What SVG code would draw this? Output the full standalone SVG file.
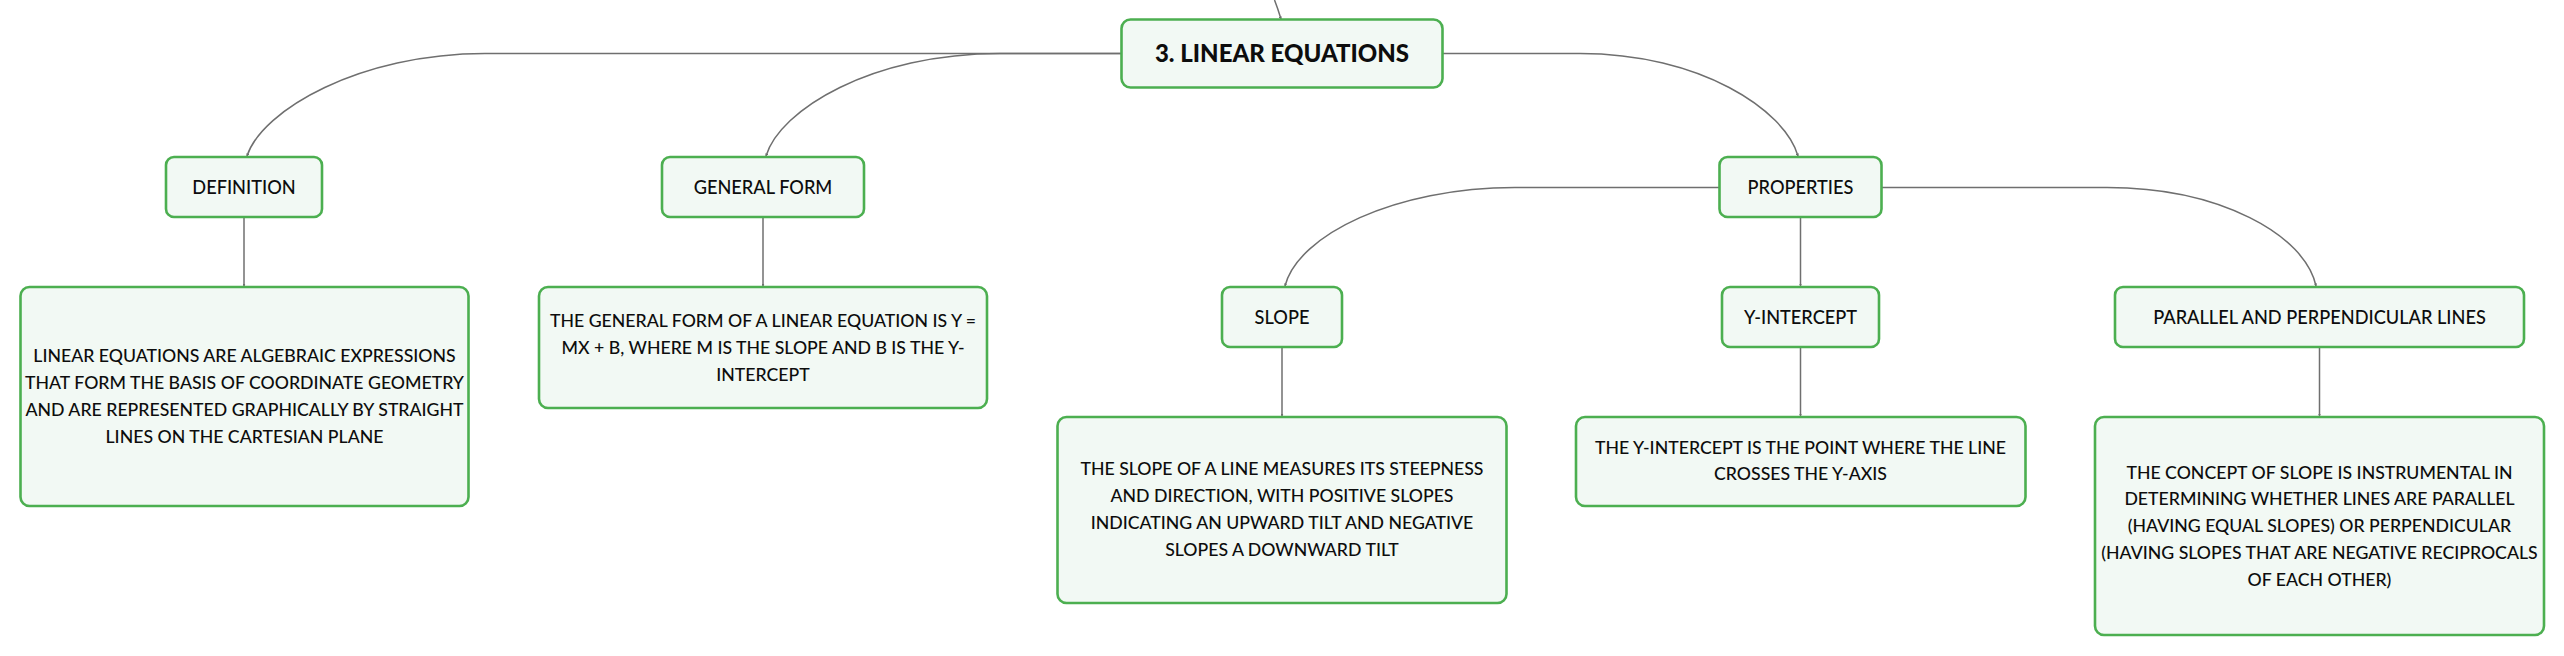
<svg xmlns="http://www.w3.org/2000/svg" width="2564" height="656" viewBox="0 0 2564 656">
<style>
.box{fill:#f2f9f4;stroke:#4caf50;stroke-width:2.6}
.conn{fill:none;stroke:#6f6f6f;stroke-width:1.5}
.t{font-family:Lato,"Open Sans","Liberation Sans",sans-serif;fill:#0d0d0d;text-anchor:middle;font-weight:500}
.lbl{font-size:18.2px}
.det{font-size:17.7px}
.root{font-size:24px;font-weight:900}
</style>
<defs>
<marker id="ah" viewBox="0 0 6 6" refX="5" refY="3" markerWidth="3" markerHeight="3" orient="auto" markerUnits="userSpaceOnUse">
<path d="M0,0 L6,3 L0,6 z" fill="#6f6f6f"/>
</marker>
</defs>
<rect width="2564" height="656" fill="#ffffff"/>
<g id="connectors">
<path class="conn" d="M1274.5,0 Q1278,9 1281,19" marker-end="url(#ah)"/>
<path class="conn" d="M1121,53.5 H485 C360,53.5 262,110 247,156" marker-end="url(#ah)"/>
<path class="conn" d="M1121,53.5 H1000 C871,53.5 780,110 766,156" marker-end="url(#ah)"/>
<path class="conn" d="M1443,53.5 H1580 C1700,53.5 1785,110 1798,156" marker-end="url(#ah)"/>
<path class="conn" d="M244,217 V286" marker-end="url(#ah)"/>
<path class="conn" d="M763,217 V286" marker-end="url(#ah)"/>
<path class="conn" d="M1719,187.5 H1515 C1395,187.5 1298,235 1285,286" marker-end="url(#ah)"/>
<path class="conn" d="M1800.5,217 V286" marker-end="url(#ah)"/>
<path class="conn" d="M1882,187.5 H2107 C2220,187.5 2305,235 2316,286" marker-end="url(#ah)"/>
<path class="conn" d="M1282,347 V416" marker-end="url(#ah)"/>
<path class="conn" d="M1800.5,347 V416" marker-end="url(#ah)"/>
<path class="conn" d="M2319.5,347 V416" marker-end="url(#ah)"/>
</g>
<g id="root">
<rect class="box" x="1121.5" y="19.5" width="321" height="68" rx="9"/>
<text class="t root" x="1282" y="62">3. LINEAR EQUATIONS</text>
</g>
<g id="definition">
<rect class="box" x="166" y="157" width="156" height="60" rx="8"/>
<text class="t lbl" x="244" y="193.7">DEFINITION</text>
</g>
<g id="definition-detail">
<rect class="box" x="20.5" y="287" width="448" height="219" rx="9"/>
<text class="t det" x="244.5"><tspan x="244.5" y="361.5">LINEAR EQUATIONS ARE ALGEBRAIC EXPRESSIONS</tspan><tspan x="244.5" y="388.5">THAT FORM THE BASIS OF COORDINATE GEOMETRY</tspan><tspan x="244.5" y="415.5">AND ARE REPRESENTED GRAPHICALLY BY STRAIGHT</tspan><tspan x="244.5" y="442.5">LINES ON THE CARTESIAN PLANE</tspan></text>
</g>
<g id="general-form">
<rect class="box" x="662" y="157" width="202" height="60" rx="8"/>
<text class="t lbl" x="763" y="193.7">GENERAL FORM</text>
</g>
<g id="general-form-detail">
<rect class="box" x="539" y="287" width="448" height="121" rx="9"/>
<text class="t det" x="763"><tspan x="763" y="326.5">THE GENERAL FORM OF A LINEAR EQUATION IS Y =</tspan><tspan x="763" y="353.5">MX + B, WHERE M IS THE SLOPE AND B IS THE Y-</tspan><tspan x="763" y="380.5">INTERCEPT</tspan></text>
</g>
<g id="properties">
<rect class="box" x="1719.5" y="157" width="162" height="60" rx="8"/>
<text class="t lbl" x="1800.5" y="193.7">PROPERTIES</text>
</g>
<g id="slope">
<rect class="box" x="1222" y="287" width="120" height="60" rx="8"/>
<text class="t lbl" x="1282" y="323.7">SLOPE</text>
</g>
<g id="slope-detail">
<rect class="box" x="1057.5" y="417" width="449" height="186" rx="9"/>
<text class="t det" x="1282"><tspan x="1282" y="475">THE SLOPE OF A LINE MEASURES ITS STEEPNESS</tspan><tspan x="1282" y="502">AND DIRECTION, WITH POSITIVE SLOPES</tspan><tspan x="1282" y="529">INDICATING AN UPWARD TILT AND NEGATIVE</tspan><tspan x="1282" y="556">SLOPES A DOWNWARD TILT</tspan></text>
</g>
<g id="y-intercept">
<rect class="box" x="1722" y="287" width="157" height="60" rx="8"/>
<text class="t lbl" x="1800.5" y="323.7">Y-INTERCEPT</text>
</g>
<g id="y-intercept-detail">
<rect class="box" x="1576" y="417" width="449.5" height="89" rx="9"/>
<text class="t det" x="1800.5"><tspan x="1800.5" y="453.5">THE Y-INTERCEPT IS THE POINT WHERE THE LINE</tspan><tspan x="1800.5" y="480.3">CROSSES THE Y-AXIS</tspan></text>
</g>
<g id="parallel">
<rect class="box" x="2115" y="287" width="409" height="60" rx="8"/>
<text class="t lbl" x="2319.5" y="323.7">PARALLEL AND PERPENDICULAR LINES</text>
</g>
<g id="parallel-detail">
<rect class="box" x="2095" y="417" width="449" height="218" rx="9"/>
<text class="t det" x="2319.5"><tspan x="2319.5" y="478.5">THE CONCEPT OF SLOPE IS INSTRUMENTAL IN</tspan><tspan x="2319.5" y="505.2">DETERMINING WHETHER LINES ARE PARALLEL</tspan><tspan x="2319.5" y="532">(HAVING EQUAL SLOPES) OR PERPENDICULAR</tspan><tspan x="2319.5" y="558.8">(HAVING SLOPES THAT ARE NEGATIVE RECIPROCALS</tspan><tspan x="2319.5" y="585.6">OF EACH OTHER)</tspan></text>
</g>
</svg>
